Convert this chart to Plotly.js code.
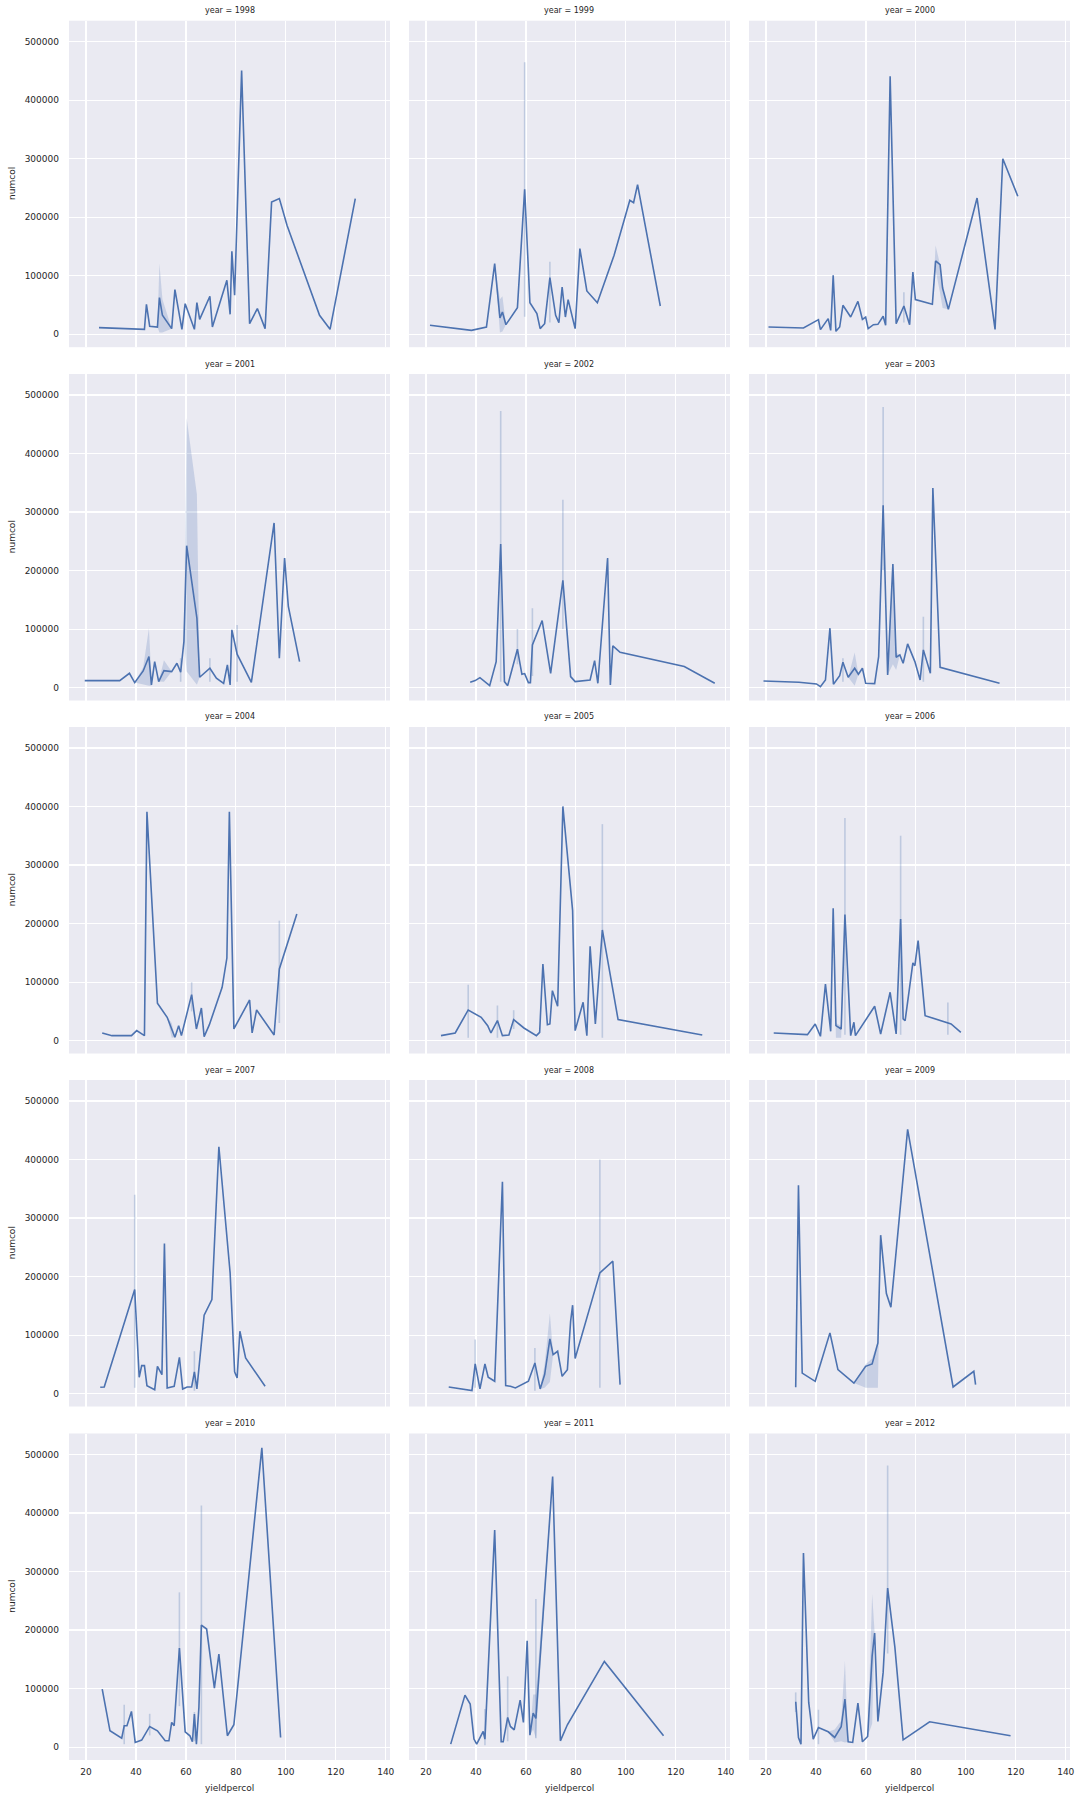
<!DOCTYPE html>
<html><head><meta charset="utf-8">
<script src="https://cdn.plot.ly/plotly-3.0.1.min.js"></script>
<style>html,body{margin:0;padding:0;background:#fff}#chart{width:1082px;height:1802px}</style>
</head><body><div id="chart"></div>
<script>
// ---- data ----
const years = [1998,1999,2000,2001,2002,2003,2004,2005,2006,2007,2008,2009,2010,2011,2012];
const xTicks = [20,40,60,80,100,120,140];
const yTicks = [0,100000,200000,300000,400000,500000];

const x1998 = [25.2,43.4,44.2,45.5,48.6,49.4,50.6,54.3,55.6,58.4,59.7,63.4,64.4,65.5,69.6,70.6,76.4,77.7,78.4,79.5,82.3,85.5,88.6,91.7,94.3,97.4,100.5,113.5,117.7,127.8];
const y1998 = [11400,8500,51300,13700,12500,62700,32500,9700,76400,8500,52400,8500,54100,25600,65000,12500,92300,34200,141900,66700,451000,18200,44000,9700,226000,232000,186000,32500,8500,232000];
const band1998 = [[49.4,3000,121000],[50.6,3000,60000]];
const spike1998 = [];

const x1999 = [21.6,38.2,44.2,47.5,49.6,50.6,52.0,56.6,59.5,61.6,64.4,65.7,67.5,69.6,71.9,73.2,74.5,75.8,76.9,79.7,81.6,84.4,88.6,95.3,101.6,103.1,104.7,113.8];
const y1999 = [15400,6800,12500,120800,27900,38200,16500,45600,247900,54100,35300,9700,18200,96900,32500,19900,80900,29600,59300,9700,146400,74100,54100,135000,229000,225000,255800,48400];
const band1999 = [[49.6,3000,60000],[50.6,5000,65000]];
const spike1999 = [[59.5,30000,465000],[69.6,20000,124000]];

const x2000 = [21,35,41,41.8,44.9,45.9,46.9,48,49.5,50.8,53.9,56.8,58.6,59.9,60.9,63,64.8,66.9,67.9,69.7,72.1,75.2,77.5,78.8,79.8,86.6,87.9,89.7,90.7,93,104.5,111.7,114.8,120.8];
const y2000 = [12500,10800,25100,8000,26800,6800,100900,5100,12500,49600,29600,56400,25600,29600,9700,16500,17100,30800,15400,441000,18200,48400,16500,106600,59300,51300,125400,119000,79200,42700,233000,8500,300000,236000];
const band2000 = [[87.9,110000,152000],[89.7,70000,119000],[90.7,45000,79200]];
const spike2000 = [[75.2,20000,72000]];

const x2001 = [19.5,33.5,37.4,39.5,42.9,45.2,46.2,47.5,49.1,51.2,54.3,56.4,57.9,59.2,60.3,64.4,65.5,69.6,72.2,75.1,76.6,77.7,78.4,80.5,86.2,95.3,97.4,99.5,101,105.5];
const y2001 = [12000,12000,24500,8600,28500,53100,4600,44500,10300,29100,27400,41700,26300,78800,242600,118700,17700,33100,16000,7400,38800,4600,98700,57100,9100,281400,50200,221500,138700,44500];
const band2001 = [[42.9,5000,35000],[45.2,3000,101600],[46.2,3000,15000],[51.2,10000,47000],[60.3,27400,461000],[64.4,5000,330000]];
const spike2001 = [[57.9,10000,50000],[69.6,10000,50000],[80.5,10000,107000]];

const x2002 = [37.7,39.7,41.6,43.4,45.5,48.1,49.9,51.4,52.7,56.6,58.4,59.5,61,61.8,62.6,66.5,69.9,74.8,77.9,79.7,85.7,87.5,88.8,92.7,93.8,94.8,97.7,123.4,135.6];
const y2002 = [9100,12000,17100,11400,3400,44500,245400,10300,3400,65600,22800,24000,8600,8600,73100,114700,24500,183200,18800,10300,13100,46200,7400,221500,4600,71300,60500,36000,7400];
const band2002 = [];
const spike2002 = [[49.9,10000,472600],[56.6,40000,100000],[62.6,20000,135800],[74.8,100000,321300]];

const x2003 = [19,33.2,40.2,41.8,43.8,45.6,47,49.5,50.8,52.9,55.5,57,58.6,59.9,63.5,65.1,66.9,68.7,70.8,72.1,73.6,74.9,76.7,79.6,81.7,83,85.8,86.8,89.7,113.5];
const y2003 = [11400,9100,6300,1700,13100,101600,5700,20500,43400,17700,33100,22800,33100,7400,6800,53100,311600,21700,211200,51900,55900,41700,74800,44500,13100,64500,24500,341300,34800,7400];
const band2003 = [[55.5,3000,60000],[70.8,40000,215000],[72.1,30000,60000]];
const spike2003 = [[66.9,200000,479500],[83,10000,121000],[50.8,10000,50000]];

const x2004 = [26.5,30.4,38.2,40.3,43.4,44.4,48.6,50.6,52.5,54.3,55.6,57.1,58.2,62.3,64.2,66.2,67.3,69.4,74.5,76.4,77.4,79.2,85.5,86.5,88.3,95.3,97.4,104.4];
const y2004 = [13100,8500,8500,17100,8500,391200,63800,51300,39900,19900,5700,25600,8500,78600,19900,55800,6800,27300,91100,141200,391200,19900,69500,13100,52400,9700,122400,216400];
const band2004 = [[54.3,5000,30000]];
const spike2004 = [[62.3,50000,99700],[97.4,30000,205000]];

const x2005 = [26,31.7,36.9,42.1,44.7,46,48.6,50.6,53.2,55.1,59.2,64.2,65.5,66.8,68.6,69.6,70.6,72.7,74.8,78.7,79.7,82.9,84.4,85.7,87.8,90.6,96.9,130.6];
const y2005 = [8500,13100,52400,39900,25600,13100,34200,8500,9700,35900,21600,8500,14200,131000,27300,28500,85400,58700,400300,222100,17100,65500,8500,161200,28500,189100,35900,9700];
const band2005 = [];
const spike2005 = [[36.9,5000,95700],[48.6,5000,60000],[55.1,20000,52000],[90.6,5000,370000]];

const x2006 = [23.1,36.6,39.7,41.8,43.8,45.9,46.9,48,50.1,51.6,53.9,55.2,55.8,63.5,65.9,69.7,72.1,73.9,74.9,75.7,78.8,79.6,80.9,83.7,94.1,98];
const y2006 = [13100,10300,28500,7400,96800,15900,226100,25600,19900,215300,8500,31300,8500,58700,11400,82600,11400,207900,37000,34200,132700,128100,170800,42700,28500,14200];
const band2006 = [[48,5000,30000],[50.1,5000,25000]];
const spike2006 = [[51.6,10000,380400],[73.9,10000,350200],[92.8,10000,65000]];

const x2007 = [25.7,27.3,39.5,41.3,42.3,43.4,44.4,46.5,47.5,48.6,50.4,51.4,52.5,55.3,57.4,58.7,60.5,62.3,63.4,64.4,67.3,70.4,73.2,77.7,79.5,80.5,81.6,83.9,91.7];
const y2007 = [10800,11400,177900,27900,47900,47900,13700,9700,6800,46700,32500,256600,9700,12500,62100,8000,11400,11400,37100,8000,134000,160800,421900,206400,37100,26800,106600,61000,12500];
const band2007 = [];
const spike2007 = [[39.5,10000,340000],[63.4,5000,72400]];

const x2008 = [29.1,38.4,39.7,41.6,43.6,44.9,47.5,50.6,51.9,53.8,55.8,61,63.6,65.7,67.5,69.6,70.9,72.7,74.5,76.6,77.9,78.7,79.7,89.6,94.8,97.7];
const y2008 = [11400,5100,50700,8000,50700,27900,21100,362000,13700,12500,9700,21100,52500,8000,32500,93500,66700,72400,29600,41000,123700,151100,59900,206400,226300,15400];
const band2008 = [[67.5,10000,50000],[69.6,20000,136800]];
const spike2008 = [[39.7,10000,92400],[63.6,5000,78000],[89.6,10000,400200]];

const x2009 = [31.9,33,34.5,39.7,45.6,48.8,55.2,59.9,62.5,64.8,65.9,68.2,70,76.7,94.9,103.2,103.9];
const y2009 = [10800,356300,35000,21000,103800,41000,18000,46700,50700,86700,270800,171000,147700,451500,11400,38200,15400];
const band2009 = [[59.9,10000,50000],[62.5,10000,60000],[64.8,10000,90000]];
const spike2009 = [];

const x2010 = [26.5,29.6,34.3,35.3,36.4,38.2,39.7,42.3,45.5,48.6,51.7,53.2,54.3,55.3,57.4,59.7,61.6,62.6,63.4,64.2,65.2,66.2,68.3,71.4,73.2,76.6,79.2,90.4,97.9];
const y2010 = [99200,27900,15400,36500,36500,61000,8000,12000,35300,27900,10800,10800,42200,36500,169300,26200,19400,9100,56400,5100,67800,208700,201800,100900,159100,19400,38200,511400,16500];
const band2010 = [];
const spike2010 = [[35.3,5000,72400],[45.5,20000,57000],[57.4,70000,264500],[66.2,5000,412800],[63.4,10000,60000]];

const x2011 = [29.9,35.6,37.7,39.2,40.3,42.9,43.6,47.5,50.1,50.9,52.7,53.8,55.3,57.7,59,60.5,61.6,62.9,64,70.7,73.8,76.6,91.4,115.1];
const y2011 = [5100,88900,73500,13700,5100,26800,13700,371200,9100,9100,50700,35300,29600,80400,42200,181900,20500,58200,49000,462400,10800,38200,146500,19400];
const band2011 = [[62.9,30000,90000],[64,15000,90000]];
const spike2011 = [[43.6,3000,65000],[52.7,10000,120900],[64,15000,253100]];

const x2012 = [31.9,33,34,35,37.1,38.9,41,44.9,47.5,50.1,51.6,52.9,54.7,56.8,58.6,60.7,62.5,63.5,64.8,66.9,68.7,71.6,74.9,85.5,117.9];
const y2012 = [77500,16500,5100,331800,76400,13700,33600,26200,16500,34800,82100,9100,8000,75300,9100,18200,156200,195000,43900,127700,271900,170500,12500,43300,19400];
const band2012 = [[47.5,8000,30000],[50.1,10000,45000],[51.6,8000,147700],[62.5,40000,261700]];
const spike2012 = [[31.9,60000,93500],[41,5000,63900],[68.7,160000,481200]];

const panels = [
  [x1998,y1998,band1998,spike1998],[x1999,y1999,band1999,spike1999],[x2000,y2000,band2000,spike2000],
  [x2001,y2001,band2001,spike2001],[x2002,y2002,band2002,spike2002],[x2003,y2003,band2003,spike2003],
  [x2004,y2004,band2004,spike2004],[x2005,y2005,band2005,spike2005],[x2006,y2006,band2006,spike2006],
  [x2007,y2007,band2007,spike2007],[x2008,y2008,band2008,spike2008],[x2009,y2009,band2009,spike2009],
  [x2010,y2010,band2010,spike2010],[x2011,y2011,band2011,spike2011],[x2012,y2012,band2012,spike2012]
];

// ---- layout geometry (pixels) ----
const W = 1082, H = 1802;
const colL = [69, 409, 749], colR = [390, 730, 1070];
const rowT = [20.7, 374, 727, 1080, 1433.5], rowH = 326.5;
const LINE = '#4C72B0', BAND = 'rgba(76,114,176,0.22)', SPIKE = 'rgba(76,114,176,0.28)';
const FONT = 'DejaVu Sans, Liberation Sans, sans-serif';
const px = v => v / W, py = v => 1 - v / H;

const traces = [];
const layout = {
  width: W, height: H, margin: {l:0, r:0, t:0, b:0},
  paper_bgcolor: '#ffffff', plot_bgcolor: '#EAEAF2',
  showlegend: false, font: {family: FONT, size: 9, color: '#262626'},
  annotations: []
};

panels.forEach((p, i) => {
  const r = Math.floor(i / 3), c = i % 3;
  const s = i === 0 ? '' : String(i + 1);
  const xa = 'x' + s, ya = 'y' + s;
  const [xs, ys, band, spikes] = p;

  if (band.length) {
    const lo = ys.slice(), hi = ys.slice();
    band.forEach(([bx, l, h]) => {
      const k = xs.indexOf(bx);
      if (k >= 0) { lo[k] = l; hi[k] = h; }
    });
    traces.push({
      type: 'scatter', mode: 'lines', xaxis: xa, yaxis: ya,
      x: xs.concat(xs.slice().reverse()), y: hi.concat(lo.slice().reverse()),
      fill: 'toself', fillcolor: BAND, line: {width: 0}, hoverinfo: 'skip'
    });
  }
  if (spikes.length) {
    traces.push({
      type: 'scatter', mode: 'markers', xaxis: xa, yaxis: ya,
      x: spikes.map(d => d[0]), y: spikes.map(d => d[1]),
      marker: {size: 1, color: 'rgba(0,0,0,0)'},
      error_y: {type: 'data', symmetric: false, array: spikes.map(d => d[2] - d[1]),
                arrayminus: spikes.map(() => 0), width: 0, thickness: 1.6, color: SPIKE},
      hoverinfo: 'skip'
    });
  }
  traces.push({
    type: 'scatter', mode: 'lines', xaxis: xa, yaxis: ya, x: xs, y: ys,
    line: {color: LINE, width: 1.6}
  });

  layout['xaxis' + s] = {
    domain: [px(colL[c]), px(colR[c])], anchor: ya, range: [13.2, 141.7],
    tickmode: 'array', tickvals: xTicks, ticktext: xTicks.map(String),
    showticklabels: r === 4, ticks: '', ticklabelstandoff: 5,
    gridcolor: '#ffffff', gridwidth: 1.2, zeroline: false, showline: false,
    tickfont: {family: FONT, size: 9, color: '#262626'}, fixedrange: true
  };
  layout['yaxis' + s] = {
    domain: [py(rowT[r] + rowH), py(rowT[r])], anchor: xa, range: [-22000, 536000],
    tickmode: 'array', tickvals: yTicks, ticktext: yTicks.map(String),
    showticklabels: c === 0, ticks: '', ticklabelstandoff: 9,
    gridcolor: '#ffffff', gridwidth: 1.2, zeroline: false, showline: false,
    tickfont: {family: FONT, size: 9, color: '#262626'}, fixedrange: true
  };

  // facet title
  layout.annotations.push({
    text: 'year = ' + years[i], xref: 'paper', yref: 'paper',
    x: px((colL[c] + colR[c]) / 2), y: py(rowT[r] - 10),
    xanchor: 'center', yanchor: 'middle', showarrow: false,
    font: {family: FONT, size: 8, color: '#262626'}
  });
  if (c === 0) {
    layout.annotations.push({
      text: 'numcol', xref: 'paper', yref: 'paper', textangle: -90,
      x: px(12), y: py(rowT[r] + rowH / 2), xanchor: 'center', yanchor: 'middle',
      showarrow: false, font: {family: FONT, size: 9, color: '#262626'}
    });
  }
  if (r === 4) {
    layout.annotations.push({
      text: 'yieldpercol', xref: 'paper', yref: 'paper',
      x: px((colL[c] + colR[c]) / 2), y: py(1788), xanchor: 'center', yanchor: 'middle',
      showarrow: false, font: {family: FONT, size: 9, color: '#262626'}
    });
  }
});

Plotly.newPlot('chart', traces, layout, {staticPlot: true, displayModeBar: false});
</script></body></html>
